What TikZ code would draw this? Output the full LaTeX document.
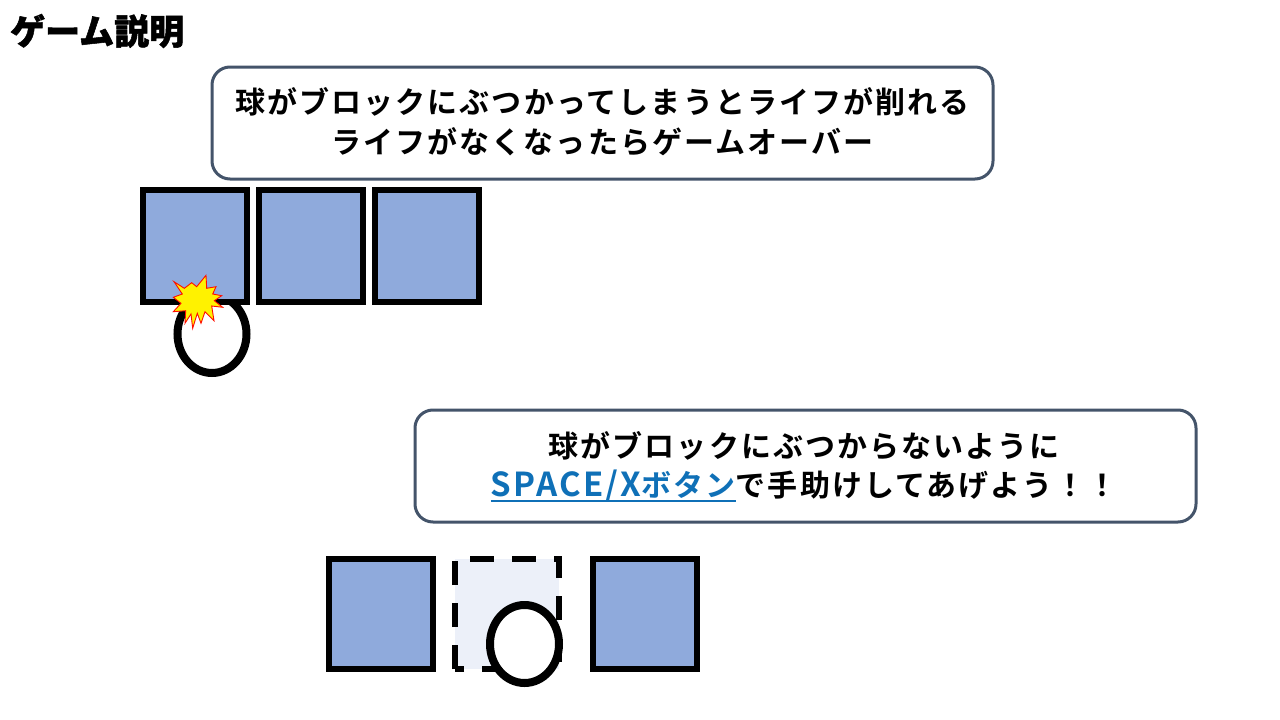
\documentclass[tikz,border=0pt]{standalone}
\usepackage{fontspec}
\setmainfont[LetterSpace=7]{Noto Sans CJK JP Bold}
\newfontfamily\titlefont[RawFeature={embolden=1.5}]{Noto Sans CJK JP Black}
\definecolor{slate}{HTML}{44546A}
\definecolor{blockblue}{HTML}{8FAADC}
\definecolor{paleblue}{HTML}{ECF0F9}
\definecolor{linkblue}{HTML}{0F70B7}
\tikzset{
  x=1pt,y=-1pt,
  bubble/.style={draw=slate,line width=3pt,rounded corners=18pt,fill=white},
  block/.style={draw=black,line width=6pt,fill=blockblue},
  ball/.style={draw=black,line width=8pt,fill=white},
  gone/.style={draw=black,line width=6pt,dash pattern=on 24pt off 18pt},
  burst/.style={draw=red!90!orange,line width=0.9pt,fill=yellow,line join=miter},
  msg/.style={font=\fontsize{30}{39.5}\selectfont,align=center,inner sep=0pt,text=black},
}
\newcommand{\linktext}[2]{{\color{linkblue}\setbox0=\hbox{{\fontsize{33}{39.5}\selectfont #1}#2}\rlap{\rule[-5pt]{\wd0}{1.8pt}}\box0}}
\begin{document}
\begin{tikzpicture}
\useasboundingbox (0,0) rectangle (1280,720);
\fill[white] (0,0) rectangle (1280,720);
\node[anchor=west,inner sep=0pt,font=\titlefont\fontsize{35}{35}\selectfont] (title) at (10,31) {ゲーム説明};
\draw[bubble] (212,67) rectangle (993,179);
\node[msg] (m1) at (602.5,122) {球がブロックにぶつかってしまうとライフが削れる\\ライフがなくなったらゲームオーバー};
\draw[ball] (212,334) ellipse (34.5 and 39);
\draw[block] (143,190) rectangle (247,302);
\draw[block] (259,190) rectangle (363,302);
\draw[block] (375,190) rectangle (479,302);
\draw[burst] (174,281.7) -- (184.3,288.3) -- (191.7,282.7) -- (196.7,286.7) -- (206,275.3) -- (206.7,288.3) -- (216,286.7) -- (212.7,294) -- (221.7,295.7) -- (214.3,300.7) -- (222.7,307.3) -- (211.7,306) -- (214,320.7) -- (205,311.7) -- (201,323.3) -- (197.3,313.3) -- (192.7,328.3) -- (191,314) -- (185,323.3) -- (185.7,310.7) -- (173.3,311.7) -- (181,303.3) -- (173.3,297.3) -- (182.3,294) -- cycle;
\draw[bubble] (415,410) rectangle (1196,522);
\node[msg] (m2) at (804,467) {球がブロックにぶつからないように\\\linktext{SPACE/X}{ボタン}で手助けしてあげよう！！};
\draw[block] (329,559) rectangle (433,669);
\draw[block] (593,559) rectangle (697,669);
\fill[paleblue] (455,559) rectangle (559,669);
\draw[gone,dash phase=27pt] (455,559) -- (559,559) -- (559,669) -- (455,669);
\draw[gone] (455,669) -- (455,559);
\draw[ball] (524.5,644) ellipse (34.5 and 39);
\end{tikzpicture}
\end{document}
